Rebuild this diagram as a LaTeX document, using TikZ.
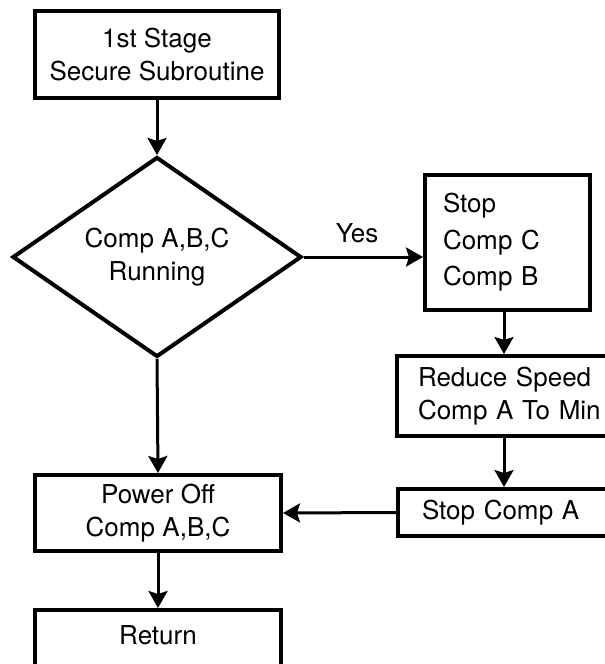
\documentclass[tikz,border=0pt]{standalone}
\usepackage{fontspec}
\setmainfont{TeX Gyre Heros}
\usetikzlibrary{arrows.meta,shapes.geometric}
\begin{document}
\begin{tikzpicture}[x=1pt,y=-1pt,
  txt/.style={font=\fontsize{26}{33}\selectfont},
  box/.style={txt, draw, line width=4pt, rectangle, inner sep=0pt, align=center},
  lbox/.style={box, align=left},
  arr/.style={line width=3pt, -{Stealth[length=17pt,width=19pt,inset=3pt]}},
]
\clip (0,0) rectangle (605,664);

% main column
\node[box, minimum width=244pt, minimum height=87pt] (start) at (157,54.5)
  {1st Stage\\Secure Subroutine};
\node[box, shape=diamond, aspect=1.445, minimum width=289pt, minimum height=200pt]
  (running) at (157,257) {Comp A,B,C\\Running};
\node[box, minimum width=246pt, minimum height=76pt] (poweroff) at (158,513)
  {Power Off\\Comp A,B,C};
\node[box, anchor=north, minimum width=246pt, inner ysep=8pt,
  text height=26pt, text depth=50pt] (return) at (158,608) {Return};

% right column
\node[lbox, inner xsep=18pt, text width=129pt, minimum height=135pt,
  font=\fontsize{26}{36.5}\selectfont] (stopcb) at (507.5,242.5)
  {Stop\\Comp C\\Comp B};
\node[lbox, inner xsep=21pt, text width=190pt, minimum height=80pt] (reduce)
  at (513,396) {Reduce Speed\\Comp A To Min};
\node[lbox, inner xsep=24pt, text width=180pt, minimum height=47pt] (stopa)
  at (512,512.5) {Stop Comp A};
\coordinate (col) at (504,0);

% connectors
\draw[arr] (start.south) -- (running.north);
\draw[arr] (running.east) -- (running.east -| stopcb.west);
\node[txt, anchor=base, inner sep=0pt] (yes) at (357,242) {Yes};
\draw[arr] (stopcb.south -| col) -- (reduce.north -| col);
\draw[arr] (reduce.south -| col) -- (stopa.north -| col);
\draw[arr] (stopa.west) -- (poweroff.east);
\draw[arr] (running.south) -- (poweroff.north);
\draw[arr] (poweroff.south) -- (return.north);
\end{tikzpicture}
\end{document}
